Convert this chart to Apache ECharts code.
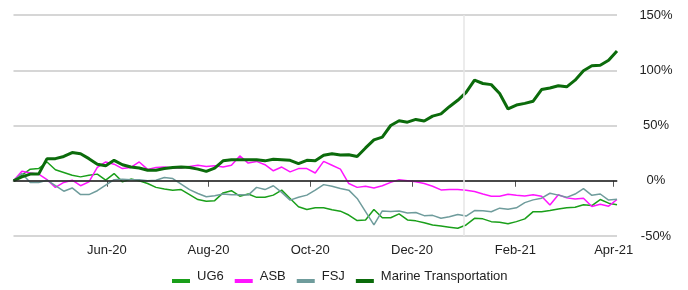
<!DOCTYPE html>
<html>
<head>
<meta charset="utf-8">
<script src="https://cdn.jsdelivr.net/npm/echarts@6/dist/echarts.min.js"></script>
<style>
  html, body { margin: 0; padding: 0; background: #fff; }
  #chart { width: 688px; height: 290px; }
</style>
</head>
<body>
<div id="chart"></div>
<script>
// series values in % change since start (~5 day steps)
var startDate = '2020-04-06'
var endDate = '2021-04-03'
var ug6 = [0, 5, 10.5, 11, 17, 10, 7.5, 5, 3.5, 5,
  6, 0.5, 6.5, -1, 1.5, 0, -2.5, -6, -7.5, -8.5,
  -8, -12.5, -17, -18.5, -18, -11, -9, -14, -12, -15,
  -15, -13, -8.5, -16, -23.5, -26, -24.5, -24.5, -26.3, -27.5,
  -31, -36, -35.5, -26, -33.5, -33.5, -30, -35.5, -36.3, -38,
  -40, -41, -42, -43, -40, -34, -34.5, -37, -37.5, -39,
  -37, -34.5, -28, -28, -27, -25.5, -24.5, -24, -21.8, -22.5,
  -17, -20.3, -21.8]
var asb = [0, 8.5, 7, 6, 1, -6, -1.5, 0.5, -4.5, -1,
  12, 17, 15, 11, 12, 17, 10.3, 12, 12.5, 11.5,
  11.5, 13, 14, 13, 13.5, 12.5, 14, 22.5, 16, 17.5,
  14.5, 9, 12.4, 8, 11, 11, 7, 17.5, 14, 10.5,
  -2.5, -6, -5, -6.5, -4.5, -1.5, 1, 0, -1, -2.5,
  -5, -8.3, -8, -8, -8.6, -9.8, -12, -14, -14, -12.2,
  -13.2, -13.8, -12.7, -14, -22, -12.7, -15.5, -16.5, -15.8, -23.3,
  -21.3, -23, -17]
var fsj = [0, 6.5, -1.5, -1.5, 0.5, -4.5, -9.5, -6.5, -12.5, -12.5,
  -9, -4, 1, 1.3, 1, 1, 0, 0.5, 3, 2,
  -3, -8, -11.5, -14.5, -13.5, -12, -12.7, -12.7, -13, -6,
  -8, -4.5, -10.5, -17.5, -15, -13, -8.5, -3.5, -5, -7,
  -8.5, -16, -28, -40, -27.3, -27.8, -27.4, -29.1, -28.8, -31.6,
  -31.3, -34, -32.5, -30.5, -32, -27, -27.2, -28, -24.8, -25.8,
  -24.5, -19.8, -17.3, -15.8, -11.3, -13, -15, -12, -7.2, -13.2,
  -12, -17.5, -16.7]
var marine = [0, 3.5, 6, 6, 20, 20, 22, 25.5, 24.5, 20,
  15, 13.5, 18.5, 14.5, 12.4, 11.5, 9.5, 9.5, 11, 12,
  12.5, 12, 10.5, 8.5, 11.5, 18, 19, 19, 19, 19,
  18, 19.5, 19, 18.5, 15.5, 18.5, 18, 23, 24.5, 23.3,
  23.5, 22, 29.7, 37, 39.5, 50, 54.3, 53, 55.5, 54,
  58.5, 60.5, 67, 72.8, 80, 91, 88, 87, 79, 65,
  68.5, 70, 72, 82.5, 84, 86, 85, 91, 99.5, 104,
  104.5, 109, 117.5]
var tickDates = ['2020-06-01', '2020-08-01', '2020-10-01', '2020-12-01', '2021-02-01', '2021-04-01']
var tickLabels = ['Jun-20', 'Aug-20', 'Oct-20', 'Dec-20', 'Feb-21', 'Apr-21']
var markerDate = '2021-01-01'

var t0 = +new Date(startDate)
var t1 = +new Date(endDate)
var dates = marine.map(function (v, i) { return t0 + i * (t1 - t0) / (marine.length - 1) })
function pairs(arr) { return arr.map(function (v, i) { return [dates[i], v] }) }
var tickTs = tickDates.map(function (d) { return +new Date(d) })
var font = 'Liberation Sans, Arial, sans-serif'

var myChart = echarts.init(document.getElementById('chart'))
var option = {
  animation: false,
  grid: { left: 13.5, right: 71, top: 15, bottom: 54 },
  legend: {
    bottom: 2,
    left: 167,
    icon: 'path://M0,0 L0,0 M0,10 L18,10 L18,14 L0,14 Z',
    itemWidth: 18,
    itemHeight: 14,
    itemGap: 11,
    itemStyle: { borderWidth: 0 },
    textStyle: { fontFamily: font, fontSize: 13, color: '#222', padding: [0, 0, 0, 2] },
    data: ['UG6', 'ASB', 'FSJ', 'Marine Transportation']
  },
  xAxis: {
    type: 'value',
    min: t0,
    max: t1,
    axisLine: { lineStyle: { color: '#bdbdbd', width: 2 } },
    axisTick: { show: true, customValues: tickTs, length: 6, lineStyle: { color: '#555' } },
    axisLabel: {
      customValues: tickTs,
      fontFamily: font, fontSize: 13, color: '#222', margin: 8,
      formatter: function (v) {
        var i = tickTs.indexOf(v)
        return i >= 0 ? tickLabels[i] : ''
      }
    },
    splitLine: { show: false }
  },
  yAxis: {
    type: 'value',
    position: 'right',
    min: -50,
    max: 150,
    interval: 50,
    axisLine: { show: false },
    axisTick: { show: false },
    axisLabel: {
      fontFamily: font, fontSize: 13, color: '#222', align: 'center', margin: 39,
      formatter: '{value}%'
    },
    splitLine: { lineStyle: { color: '#c8c8c8', width: 1.5 } }
  },
  series: [
    {
      name: 'UG6', type: 'line', data: pairs(ug6), showSymbol: false,
      color: '#1a9f1a', lineStyle: { width: 1.5 },
      markLine: {
        silent: true, symbol: ['none', 'none'], label: { show: false },
        data: [
          { yAxis: 0, lineStyle: { color: '#222', width: 1.5, type: 'solid' } },
          { xAxis: +new Date(markerDate), lineStyle: { color: '#e6e6e6', width: 1.5, type: 'solid' } }
        ]
      }
    },
    { name: 'ASB', type: 'line', data: pairs(asb), showSymbol: false, color: '#ff14ff', lineStyle: { width: 1.5 } },
    { name: 'FSJ', type: 'line', data: pairs(fsj), showSymbol: false, color: '#6f9c9c', lineStyle: { width: 1.5 } },
    { name: 'Marine Transportation', type: 'line', data: pairs(marine), showSymbol: false, color: '#0b6b0b', lineStyle: { width: 3 } }
  ]
}
myChart.setOption(option)
</script>
</body>
</html>
